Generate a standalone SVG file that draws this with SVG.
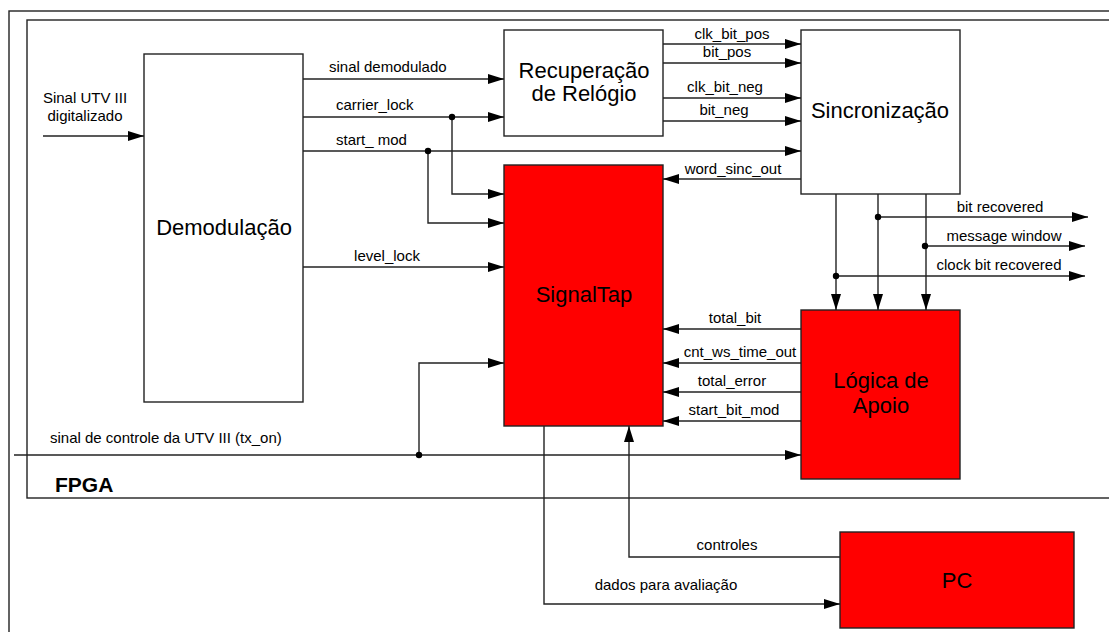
<svg xmlns="http://www.w3.org/2000/svg" width="1109" height="632" viewBox="0 0 1109 632">
<defs>
<marker id="arr" markerWidth="16" markerHeight="10" refX="16" refY="5" orient="auto" markerUnits="userSpaceOnUse">
<path d="M0,0 L16,5 L0,10 Z" fill="#000"/>
</marker>
<style>
.frame{fill:none;stroke:#222;stroke-width:1.4}
.box{fill:#fff;stroke:#222;stroke-width:1.4}
.red{fill:#ff0000;stroke:#222;stroke-width:1.4}
.w{fill:none;stroke:#222;stroke-width:1.4}
.a{fill:none;stroke:#222;stroke-width:1.4;marker-end:url(#arr)}
.dot{fill:#000}
text{font-family:"Liberation Sans",Arial,sans-serif;fill:#000}
.big{font-size:22px;text-anchor:middle}
.lb{font-size:15px;text-anchor:middle}
.lbs{font-size:15px}
</style>
</defs>
<rect width="1109" height="632" fill="#fff"/>
<g id="frames">
<rect class="frame" x="9" y="11" width="1120" height="640"/>
<rect class="frame" x="27" y="20" width="1100" height="478"/>
<text x="55" y="492" style="font-size:21px;font-weight:bold">FPGA</text>
</g>
<g id="demodulacao">
<rect class="box" x="144" y="54" width="159" height="348"/>
<text class="big" x="224" y="235">Demodulação</text>
</g>
<g id="recuperacao">
<rect class="box" x="504" y="30" width="159" height="106"/>
<text class="big" x="584" y="78">Recuperação</text>
<text class="big" x="584" y="101">de Relógio</text>
</g>
<g id="sincronizacao">
<rect class="box" x="801" y="30" width="159" height="164"/>
<text class="big" x="880" y="118">Sincronização</text>
</g>
<g id="signaltap">
<rect class="red" x="504" y="165" width="159" height="261"/>
<text class="big" x="584" y="302">SignalTap</text>
</g>
<g id="logica">
<rect class="red" x="801" y="310" width="159" height="169"/>
<text class="big" x="881" y="388">Lógica de</text>
<text class="big" x="881" y="413">Apoio</text>
</g>
<g id="pc">
<rect class="red" x="840" y="532" width="234" height="96"/>
<text class="big" x="957" y="588">PC</text>
</g>
<g id="connectors">
<path class="a" d="M43,136 H144"/>
<path class="a" d="M303,79 H504"/>
<path class="a" d="M303,117 H504"/>
<path class="a" d="M452,117 V194 H504"/>
<path class="a" d="M303,151 H801"/>
<path class="a" d="M428,151 V223 H504"/>
<path class="a" d="M303,267 H504"/>
<path class="a" d="M663,44 H801"/>
<path class="a" d="M663,63 H801"/>
<path class="a" d="M663,98 H801"/>
<path class="a" d="M663,121 H801"/>
<path class="a" d="M801,179 H663"/>
<path class="a" d="M836,194 V310"/>
<path class="a" d="M878,194 V310"/>
<path class="a" d="M926,194 V310"/>
<path class="a" d="M878,217 H1088"/>
<path class="a" d="M926,246 H1085"/>
<path class="a" d="M836,276 H1085"/>
<path class="a" d="M801,329 H663"/>
<path class="a" d="M801,363 H663"/>
<path class="a" d="M801,392 H663"/>
<path class="a" d="M801,421 H663"/>
<path class="a" d="M14,455 H801"/>
<path class="a" d="M419,455 V363 H504"/>
<path class="a" d="M544,426 V604 H840"/>
<path class="a" d="M840,557 H629 V426"/>
<circle class="dot" cx="452" cy="117" r="3.2"/>
<circle class="dot" cx="428" cy="151" r="3.2"/>
<circle class="dot" cx="878" cy="217" r="3.2"/>
<circle class="dot" cx="925" cy="246" r="3.2"/>
<circle class="dot" cx="836" cy="276" r="3.2"/>
<circle class="dot" cx="419" cy="455" r="3.2"/>
<text class="lb" x="85" y="103">Sinal UTV III</text>
<text class="lb" x="85" y="121">digitalizado</text>
<text class="lbs" x="329" y="72">sinal demodulado</text>
<text class="lbs" x="336" y="110">carrier_lock</text>
<text class="lbs" x="336" y="145">start_ mod</text>
<text class="lb" x="387" y="261">level_lock</text>
<text class="lb" x="732" y="39">clk_bit_pos</text>
<text class="lb" x="727" y="57">bit_pos</text>
<text class="lb" x="725" y="92">clk_bit_neg</text>
<text class="lb" x="724" y="115">bit_neg</text>
<text class="lb" x="733" y="174">word_sinc_out</text>
<text class="lb" x="1000" y="212">bit recovered</text>
<text class="lb" x="1004" y="241">message window</text>
<text class="lb" x="999" y="270">clock bit recovered</text>
<text class="lb" x="735" y="323">total_bit</text>
<text class="lb" x="740" y="357">cnt_ws_time_out</text>
<text class="lb" x="732" y="386">total_error</text>
<text class="lb" x="734" y="415">start_bit_mod</text>
<text class="lbs" x="50" y="443">sinal de controle da UTV III (tx_on)</text>
<text class="lb" x="727" y="550">controles</text>
<text class="lb" x="666" y="590">dados para avaliação</text>
</g>
</svg>
